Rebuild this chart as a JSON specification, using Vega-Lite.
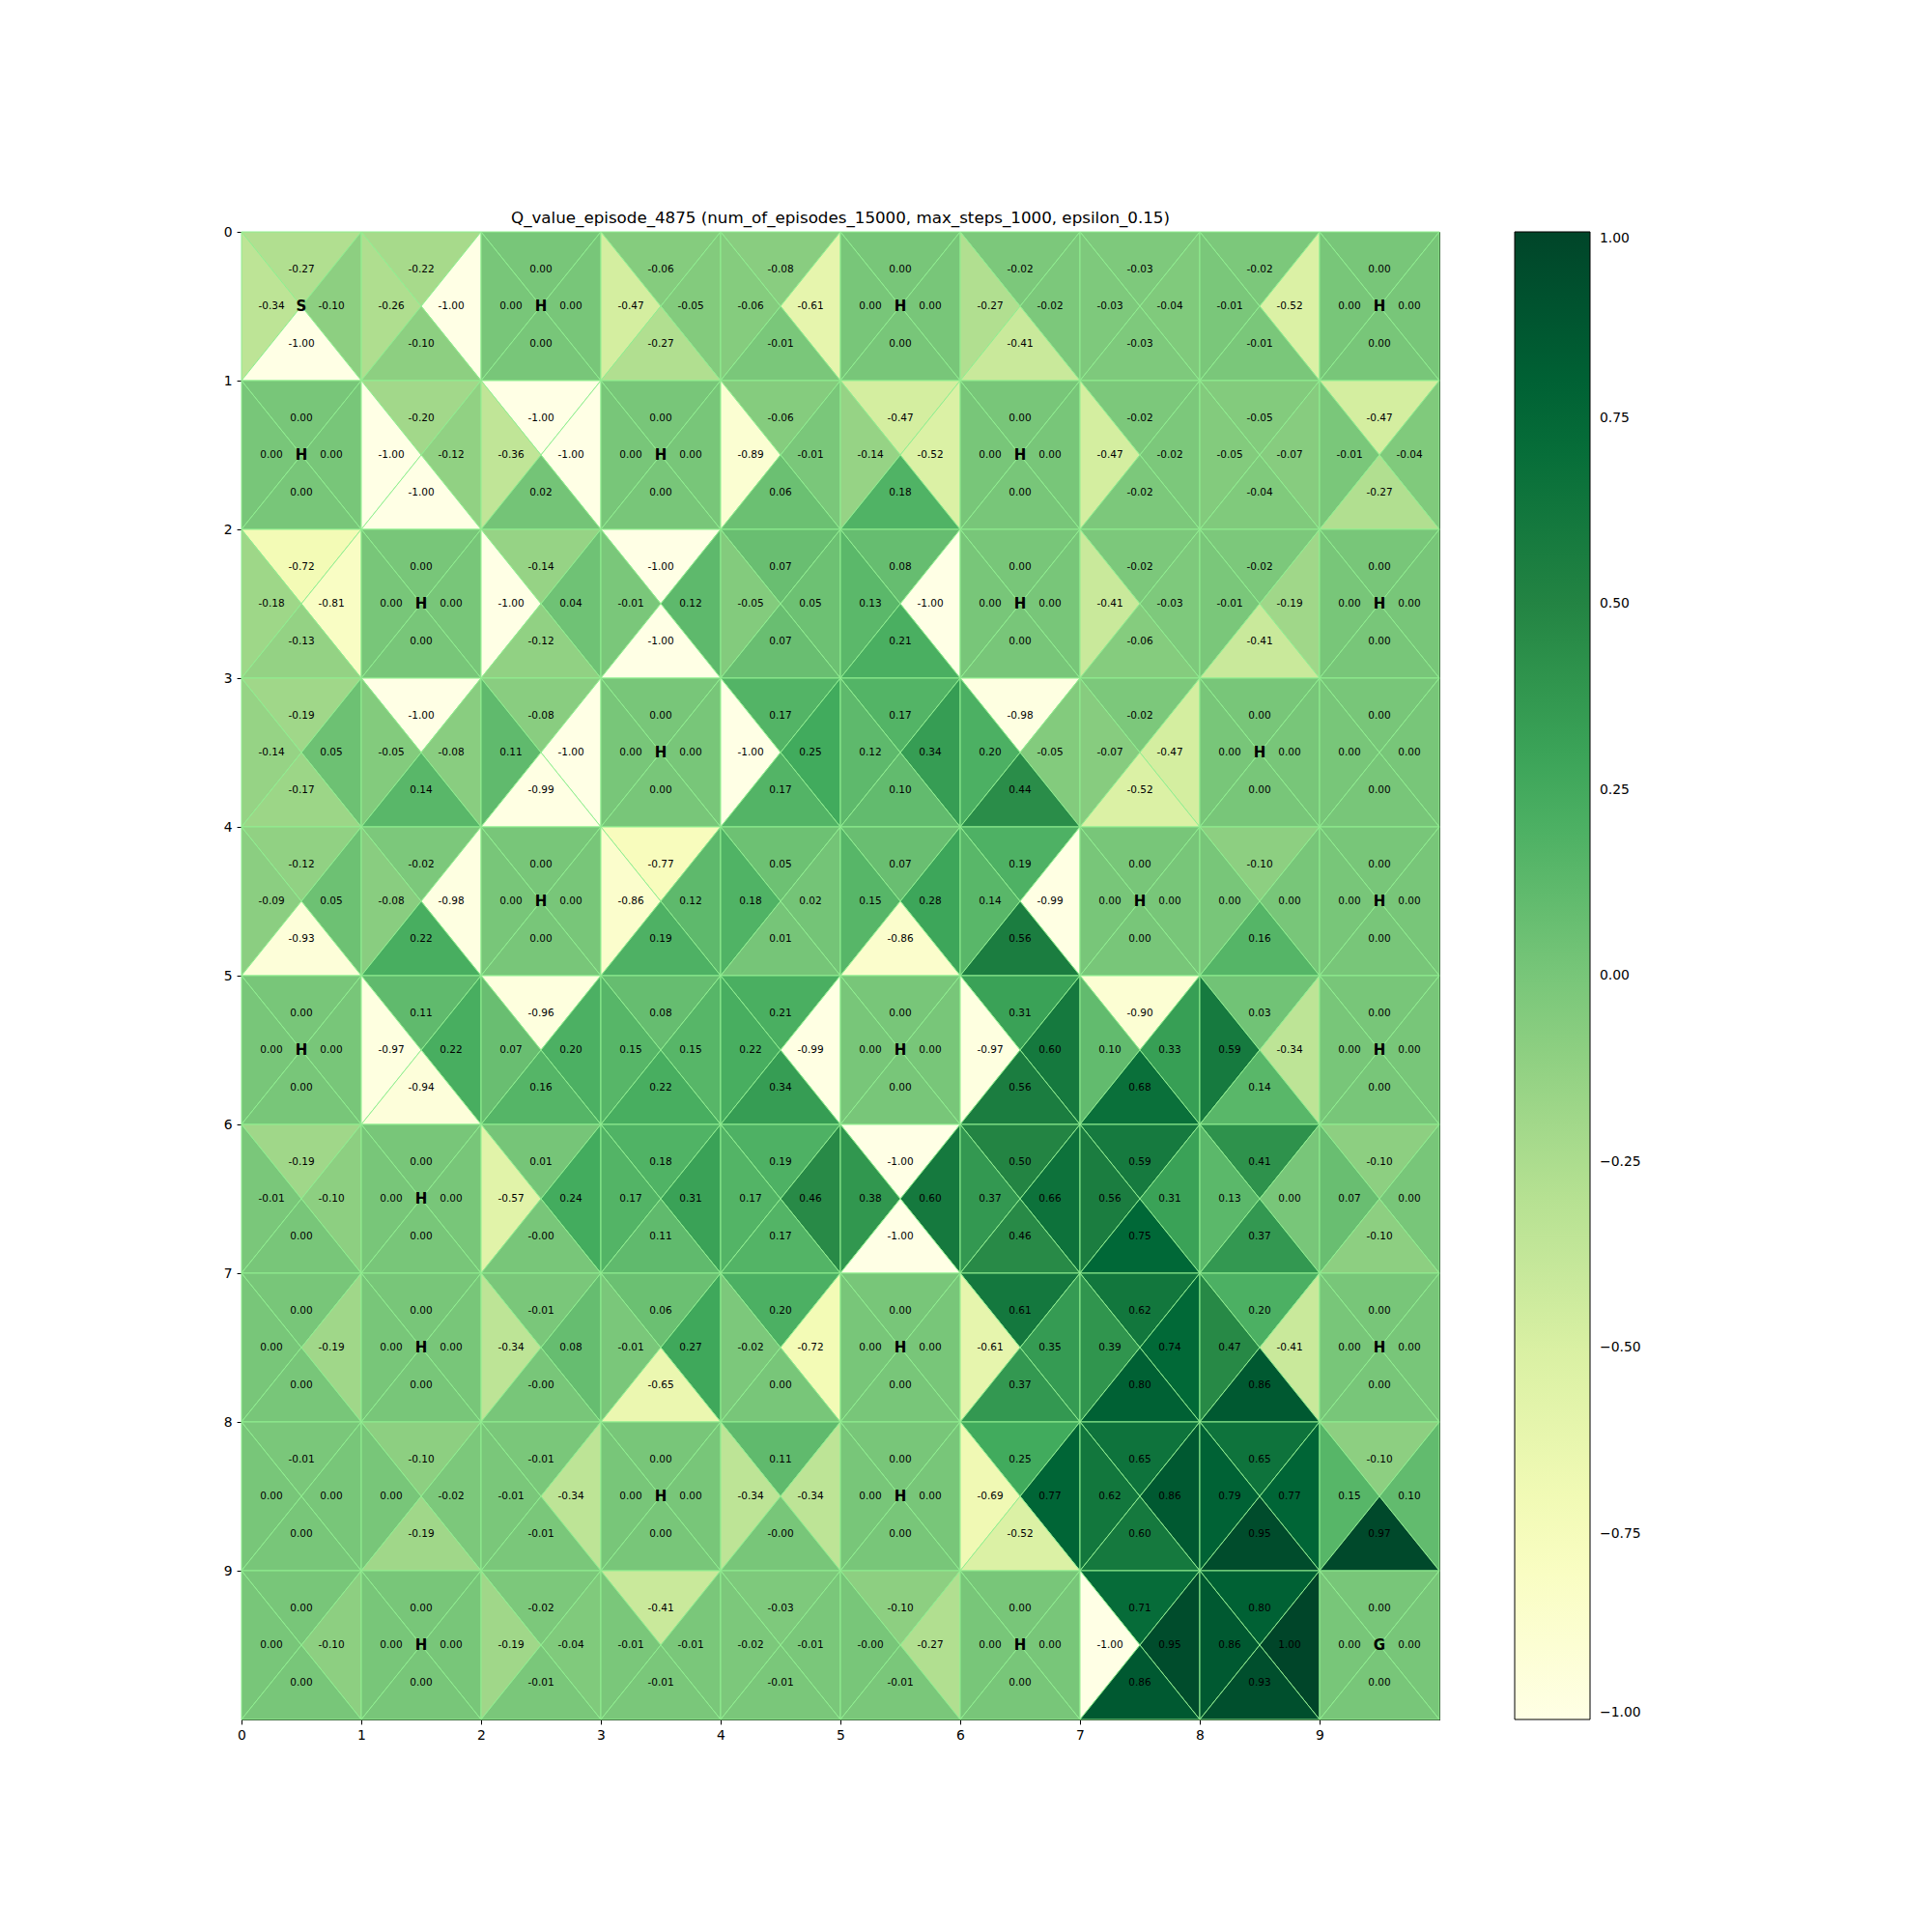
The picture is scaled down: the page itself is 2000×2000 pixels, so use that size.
{
  "$schema": "https://vega.github.io/schema/vega-lite/v6.json",
  "width": 1240,
  "height": 1540,
  "autosize": {"type": "none"},
  "padding": {"left": 250, "top": 240, "right": 510, "bottom": 220},
  "background": "white",
  "title": {"text": "Q_value_episode_4875 (num_of_episodes_15000, max_steps_1000, epsilon_0.15)", "font": "DejaVu Sans", "fontSize": 16.7, "fontWeight": "normal", "color": "black", "anchor": "middle", "frame": "group", "offset": 8, "dy": 23, "baseline": "alphabetic"},
  "data": {"values": [
    {"row":0,"col":0,"top":"-0.27","left":"-0.34","right":"-0.10","bottom":"-1.00","m":"S"},
    {"row":0,"col":1,"top":"-0.22","left":"-0.26","right":"-1.00","bottom":"-0.10"},
    {"row":0,"col":2,"top":"0.00","left":"0.00","right":"0.00","bottom":"0.00","m":"H"},
    {"row":0,"col":3,"top":"-0.06","left":"-0.47","right":"-0.05","bottom":"-0.27"},
    {"row":0,"col":4,"top":"-0.08","left":"-0.06","right":"-0.61","bottom":"-0.01"},
    {"row":0,"col":5,"top":"0.00","left":"0.00","right":"0.00","bottom":"0.00","m":"H"},
    {"row":0,"col":6,"top":"-0.02","left":"-0.27","right":"-0.02","bottom":"-0.41"},
    {"row":0,"col":7,"top":"-0.03","left":"-0.03","right":"-0.04","bottom":"-0.03"},
    {"row":0,"col":8,"top":"-0.02","left":"-0.01","right":"-0.52","bottom":"-0.01"},
    {"row":0,"col":9,"top":"0.00","left":"0.00","right":"0.00","bottom":"0.00","m":"H"},

    {"row":1,"col":0,"top":"0.00","left":"0.00","right":"0.00","bottom":"0.00","m":"H"},
    {"row":1,"col":1,"top":"-0.20","left":"-1.00","right":"-0.12","bottom":"-1.00"},
    {"row":1,"col":2,"top":"-1.00","left":"-0.36","right":"-1.00","bottom":"0.02"},
    {"row":1,"col":3,"top":"0.00","left":"0.00","right":"0.00","bottom":"0.00","m":"H"},
    {"row":1,"col":4,"top":"-0.06","left":"-0.89","right":"-0.01","bottom":"0.06"},
    {"row":1,"col":5,"top":"-0.47","left":"-0.14","right":"-0.52","bottom":"0.18"},
    {"row":1,"col":6,"top":"0.00","left":"0.00","right":"0.00","bottom":"0.00","m":"H"},
    {"row":1,"col":7,"top":"-0.02","left":"-0.47","right":"-0.02","bottom":"-0.02"},
    {"row":1,"col":8,"top":"-0.05","left":"-0.05","right":"-0.07","bottom":"-0.04"},
    {"row":1,"col":9,"top":"-0.47","left":"-0.01","right":"-0.04","bottom":"-0.27"},

    {"row":2,"col":0,"top":"-0.72","left":"-0.18","right":"-0.81","bottom":"-0.13"},
    {"row":2,"col":1,"top":"0.00","left":"0.00","right":"0.00","bottom":"0.00","m":"H"},
    {"row":2,"col":2,"top":"-0.14","left":"-1.00","right":"0.04","bottom":"-0.12"},
    {"row":2,"col":3,"top":"-1.00","left":"-0.01","right":"0.12","bottom":"-1.00"},
    {"row":2,"col":4,"top":"0.07","left":"-0.05","right":"0.05","bottom":"0.07"},
    {"row":2,"col":5,"top":"0.08","left":"0.13","right":"-1.00","bottom":"0.21"},
    {"row":2,"col":6,"top":"0.00","left":"0.00","right":"0.00","bottom":"0.00","m":"H"},
    {"row":2,"col":7,"top":"-0.02","left":"-0.41","right":"-0.03","bottom":"-0.06"},
    {"row":2,"col":8,"top":"-0.02","left":"-0.01","right":"-0.19","bottom":"-0.41"},
    {"row":2,"col":9,"top":"0.00","left":"0.00","right":"0.00","bottom":"0.00","m":"H"},

    {"row":3,"col":0,"top":"-0.19","left":"-0.14","right":"0.05","bottom":"-0.17"},
    {"row":3,"col":1,"top":"-1.00","left":"-0.05","right":"-0.08","bottom":"0.14"},
    {"row":3,"col":2,"top":"-0.08","left":"0.11","right":"-1.00","bottom":"-0.99"},
    {"row":3,"col":3,"top":"0.00","left":"0.00","right":"0.00","bottom":"0.00","m":"H"},
    {"row":3,"col":4,"top":"0.17","left":"-1.00","right":"0.25","bottom":"0.17"},
    {"row":3,"col":5,"top":"0.17","left":"0.12","right":"0.34","bottom":"0.10"},
    {"row":3,"col":6,"top":"-0.98","left":"0.20","right":"-0.05","bottom":"0.44"},
    {"row":3,"col":7,"top":"-0.02","left":"-0.07","right":"-0.47","bottom":"-0.52"},
    {"row":3,"col":8,"top":"0.00","left":"0.00","right":"0.00","bottom":"0.00","m":"H"},
    {"row":3,"col":9,"top":"0.00","left":"0.00","right":"0.00","bottom":"0.00"},

    {"row":4,"col":0,"top":"-0.12","left":"-0.09","right":"0.05","bottom":"-0.93"},
    {"row":4,"col":1,"top":"-0.02","left":"-0.08","right":"-0.98","bottom":"0.22"},
    {"row":4,"col":2,"top":"0.00","left":"0.00","right":"0.00","bottom":"0.00","m":"H"},
    {"row":4,"col":3,"top":"-0.77","left":"-0.86","right":"0.12","bottom":"0.19"},
    {"row":4,"col":4,"top":"0.05","left":"0.18","right":"0.02","bottom":"0.01"},
    {"row":4,"col":5,"top":"0.07","left":"0.15","right":"0.28","bottom":"-0.86"},
    {"row":4,"col":6,"top":"0.19","left":"0.14","right":"-0.99","bottom":"0.56"},
    {"row":4,"col":7,"top":"0.00","left":"0.00","right":"0.00","bottom":"0.00","m":"H"},
    {"row":4,"col":8,"top":"-0.10","left":"0.00","right":"0.00","bottom":"0.16"},
    {"row":4,"col":9,"top":"0.00","left":"0.00","right":"0.00","bottom":"0.00","m":"H"},

    {"row":5,"col":0,"top":"0.00","left":"0.00","right":"0.00","bottom":"0.00","m":"H"},
    {"row":5,"col":1,"top":"0.11","left":"-0.97","right":"0.22","bottom":"-0.94"},
    {"row":5,"col":2,"top":"-0.96","left":"0.07","right":"0.20","bottom":"0.16"},
    {"row":5,"col":3,"top":"0.08","left":"0.15","right":"0.15","bottom":"0.22"},
    {"row":5,"col":4,"top":"0.21","left":"0.22","right":"-0.99","bottom":"0.34"},
    {"row":5,"col":5,"top":"0.00","left":"0.00","right":"0.00","bottom":"0.00","m":"H"},
    {"row":5,"col":6,"top":"0.31","left":"-0.97","right":"0.60","bottom":"0.56"},
    {"row":5,"col":7,"top":"-0.90","left":"0.10","right":"0.33","bottom":"0.68"},
    {"row":5,"col":8,"top":"0.03","left":"0.59","right":"-0.34","bottom":"0.14"},
    {"row":5,"col":9,"top":"0.00","left":"0.00","right":"0.00","bottom":"0.00","m":"H"},

    {"row":6,"col":0,"top":"-0.19","left":"-0.01","right":"-0.10","bottom":"0.00"},
    {"row":6,"col":1,"top":"0.00","left":"0.00","right":"0.00","bottom":"0.00","m":"H"},
    {"row":6,"col":2,"top":"0.01","left":"-0.57","right":"0.24","bottom":"-0.00"},
    {"row":6,"col":3,"top":"0.18","left":"0.17","right":"0.31","bottom":"0.11"},
    {"row":6,"col":4,"top":"0.19","left":"0.17","right":"0.46","bottom":"0.17"},
    {"row":6,"col":5,"top":"-1.00","left":"0.38","right":"0.60","bottom":"-1.00"},
    {"row":6,"col":6,"top":"0.50","left":"0.37","right":"0.66","bottom":"0.46"},
    {"row":6,"col":7,"top":"0.59","left":"0.56","right":"0.31","bottom":"0.75"},
    {"row":6,"col":8,"top":"0.41","left":"0.13","right":"0.00","bottom":"0.37"},
    {"row":6,"col":9,"top":"-0.10","left":"0.07","right":"0.00","bottom":"-0.10"},

    {"row":7,"col":0,"top":"0.00","left":"0.00","right":"-0.19","bottom":"0.00"},
    {"row":7,"col":1,"top":"0.00","left":"0.00","right":"0.00","bottom":"0.00","m":"H"},
    {"row":7,"col":2,"top":"-0.01","left":"-0.34","right":"0.08","bottom":"-0.00"},
    {"row":7,"col":3,"top":"0.06","left":"-0.01","right":"0.27","bottom":"-0.65"},
    {"row":7,"col":4,"top":"0.20","left":"-0.02","right":"-0.72","bottom":"0.00"},
    {"row":7,"col":5,"top":"0.00","left":"0.00","right":"0.00","bottom":"0.00","m":"H"},
    {"row":7,"col":6,"top":"0.61","left":"-0.61","right":"0.35","bottom":"0.37"},
    {"row":7,"col":7,"top":"0.62","left":"0.39","right":"0.74","bottom":"0.80"},
    {"row":7,"col":8,"top":"0.20","left":"0.47","right":"-0.41","bottom":"0.86"},
    {"row":7,"col":9,"top":"0.00","left":"0.00","right":"0.00","bottom":"0.00","m":"H"},

    {"row":8,"col":0,"top":"-0.01","left":"0.00","right":"0.00","bottom":"0.00"},
    {"row":8,"col":1,"top":"-0.10","left":"0.00","right":"-0.02","bottom":"-0.19"},
    {"row":8,"col":2,"top":"-0.01","left":"-0.01","right":"-0.34","bottom":"-0.01"},
    {"row":8,"col":3,"top":"0.00","left":"0.00","right":"0.00","bottom":"0.00","m":"H"},
    {"row":8,"col":4,"top":"0.11","left":"-0.34","right":"-0.34","bottom":"-0.00"},
    {"row":8,"col":5,"top":"0.00","left":"0.00","right":"0.00","bottom":"0.00","m":"H"},
    {"row":8,"col":6,"top":"0.25","left":"-0.69","right":"0.77","bottom":"-0.52"},
    {"row":8,"col":7,"top":"0.65","left":"0.62","right":"0.86","bottom":"0.60"},
    {"row":8,"col":8,"top":"0.65","left":"0.79","right":"0.77","bottom":"0.95"},
    {"row":8,"col":9,"top":"-0.10","left":"0.15","right":"0.10","bottom":"0.97"},

    {"row":9,"col":0,"top":"0.00","left":"0.00","right":"-0.10","bottom":"0.00"},
    {"row":9,"col":1,"top":"0.00","left":"0.00","right":"0.00","bottom":"0.00","m":"H"},
    {"row":9,"col":2,"top":"-0.02","left":"-0.19","right":"-0.04","bottom":"-0.01"},
    {"row":9,"col":3,"top":"-0.41","left":"-0.01","right":"-0.01","bottom":"-0.01"},
    {"row":9,"col":4,"top":"-0.03","left":"-0.02","right":"-0.01","bottom":"-0.01"},
    {"row":9,"col":5,"top":"-0.10","left":"-0.00","right":"-0.27","bottom":"-0.01"},
    {"row":9,"col":6,"top":"0.00","left":"0.00","right":"0.00","bottom":"0.00","m":"H"},
    {"row":9,"col":7,"top":"0.71","left":"-1.00","right":"0.95","bottom":"0.86"},
    {"row":9,"col":8,"top":"0.80","left":"0.86","right":"1.00","bottom":"0.93"},
    {"row":9,"col":9,"top":"0.00","left":"0.00","right":"0.00","bottom":"0.00","m":"G"}
  ]},
  "transform": [{"fold": ["top", "left", "right", "bottom"], "as": ["dir", "q"]}],
  "layer": [
    {
      "mark": {"type": "point", "filled": true, "opacity": 1, "size": 23716, "stroke": "#90ee90", "strokeWidth": 1, "strokeOpacity": 1},
      "encoding": {
        "x": {"field": "col", "type": "ordinal", "scale": {"domain": [0,1,2,3,4,5,6,7,8,9], "paddingInner": 0, "paddingOuter": 0}, "axis": {"orient": "bottom", "title": null, "labelAngle": 0, "tickOffset": -62}},
        "y": {"field": "row", "type": "ordinal", "scale": {"domain": [0,1,2,3,4,5,6,7,8,9], "paddingInner": 0, "paddingOuter": 0}, "axis": {"orient": "left", "title": null, "tickOffset": -77}},
        "color": {"field": "q", "type": "quantitative",
          "scale": {"domain": [-1, -0.75, -0.5, -0.25, 0, 0.25, 0.5, 0.75, 1], "range": ["#ffffe5", "#f7fcb9", "#d9f0a3", "#addd8e", "#78c679", "#41ab5d", "#238443", "#006837", "#004529"], "interpolate": "rgb"},
          "legend": {"title": null, "orient": "none", "legendX": 1318, "legendY": 0, "direction": "vertical", "gradientLength": 1540, "gradientThickness": 78, "gradientStrokeColor": "black", "gradientStrokeWidth": 1, "values": [-1, -0.75, -0.5, -0.25, 0, 0.25, 0.5, 0.75, 1], "format": ".2f", "labelFont": "DejaVu Sans", "labelFontSize": 13.9, "labelColor": "black", "labelOffset": 10, "labelOverlap": false, "labelBaseline": "middle", "padding": 0}},
        "shape": {"field": "dir", "type": "nominal", "legend": null, "scale": {"domain": ["top", "left", "right", "bottom"], "range": ["M-0.80519,-1L0.80519,-1L0,0Z", "M-0.80519,-1L-0.80519,1L0,0Z", "M0.80519,-1L0.80519,1L0,0Z", "M-0.80519,1L0.80519,1L0,0Z"]}}
      }
    },
    {
      "transform": [{"filter": "datum.dir === 'top'"}],
      "mark": {"type": "text", "dy": -38.5, "font": "DejaVu Sans", "fontSize": 10.5, "color": "black"},
      "encoding": {
        "x": {"field": "col", "type": "ordinal", "axis": null},
        "y": {"field": "row", "type": "ordinal", "axis": null},
        "text": {"field": "q", "type": "nominal"}
      }
    },
    {
      "transform": [{"filter": "datum.dir === 'bottom'"}],
      "mark": {"type": "text", "dy": 38.5, "font": "DejaVu Sans", "fontSize": 10.5, "color": "black"},
      "encoding": {
        "x": {"field": "col", "type": "ordinal", "axis": null},
        "y": {"field": "row", "type": "ordinal", "axis": null},
        "text": {"field": "q", "type": "nominal"}
      }
    },
    {
      "transform": [{"filter": "datum.dir === 'left'"}],
      "mark": {"type": "text", "dx": -31, "font": "DejaVu Sans", "fontSize": 10.5, "color": "black"},
      "encoding": {
        "x": {"field": "col", "type": "ordinal", "axis": null},
        "y": {"field": "row", "type": "ordinal", "axis": null},
        "text": {"field": "q", "type": "nominal"}
      }
    },
    {
      "transform": [{"filter": "datum.dir === 'right'"}],
      "mark": {"type": "text", "dx": 31, "font": "DejaVu Sans", "fontSize": 10.5, "color": "black"},
      "encoding": {
        "x": {"field": "col", "type": "ordinal", "axis": null},
        "y": {"field": "row", "type": "ordinal", "axis": null},
        "text": {"field": "q", "type": "nominal"}
      }
    },
    {
      "transform": [{"filter": "datum.dir === 'top' && isValid(datum.m)"}],
      "mark": {"type": "text", "font": "DejaVu Sans", "fontSize": 15, "fontWeight": "bold", "color": "black"},
      "encoding": {
        "x": {"field": "col", "type": "ordinal", "axis": {"orient": "top", "labels": false, "ticks": false, "title": null}},
        "y": {"field": "row", "type": "ordinal", "axis": {"orient": "right", "labels": false, "ticks": false, "title": null}},
        "text": {"field": "m", "type": "nominal"}
      }
    }
  ],
  "resolve": {"axis": {"x": "independent", "y": "independent"}},
  "config": {
    "font": "DejaVu Sans",
    "view": {"stroke": null},
    "axis": {"labelFont": "DejaVu Sans", "labelFontSize": 13.9, "labelColor": "black", "domainColor": "black", "domainWidth": 1, "tickColor": "black", "tickSize": 4.9, "tickWidth": 1, "labelPadding": 4.9, "grid": false, "zindex": 1}
  }
}
